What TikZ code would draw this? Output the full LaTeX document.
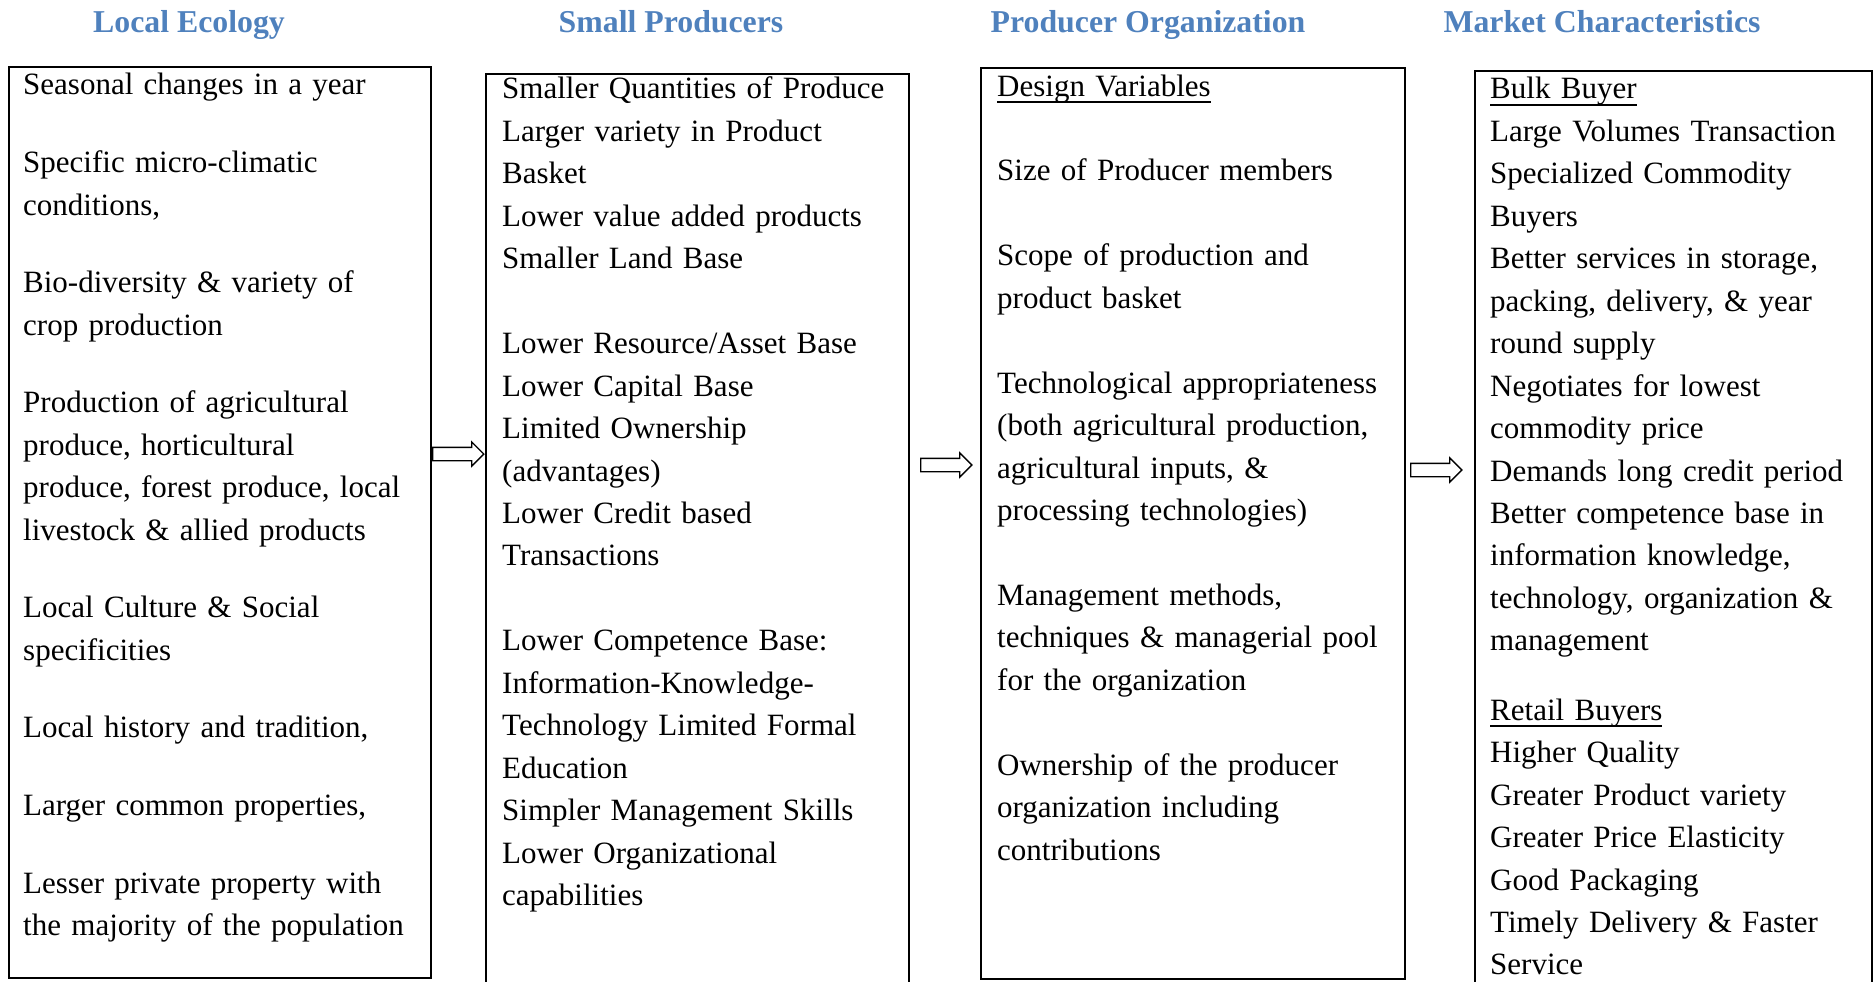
\documentclass[tikz,border=0pt]{standalone}
\usepackage{fontspec}
\setmainfont{Liberation Serif}
\usetikzlibrary{shapes.arrows}
\definecolor{headblue}{RGB}{79,129,189}
% underlined sub-heading inside a column
\newcommand{\ulined}[1]{\leavevmode\setbox0\hbox{#1}\rlap{\rule[-6.9pt]{\wd0}{1.8pt}}\box0}

\begin{document}
\begin{tikzpicture}[x=1pt,y=-1pt,
  panel/.style={draw,line width=1.8pt,anchor=north west,inner sep=0pt},
  colhead/.style={anchor=base,text=headblue,font=\fontsize{31.8}{38}\selectfont\bfseries},
  body/.style={anchor=base west,inner sep=0pt,text width=470pt,align=left,
    font=\fontsize{31}{42.45}\selectfont},
  blockarr/.style={single arrow,draw,fill=white,line width=1.3pt,inner sep=6pt,
    minimum width=0pt,minimum height=51pt,single arrow head extend=5.5pt}]
\path[use as bounding box,clip] (0,0) rectangle (1874,982);

% column titles
\node[colhead] (hEco) at (189,33) {Local Ecology};
\node[colhead] (hProd) at (671,33) {Small Producers};
\node[colhead] (hOrg) at (1148,33) {Producer Organization};
\node[colhead] (hMkt) at (1602,33) {Market Characteristics};

% frames
\node[panel,minimum width=422pt,minimum height=911pt] (eco) at (8,66) {};
\node[panel,minimum width=423pt,minimum height=930pt] (prod) at (485,73) {};
\node[panel,minimum width=424pt,minimum height=911pt] (org) at (980,67) {};
\node[panel,minimum width=397pt,minimum height=930pt] (mkt) at (1474,70) {};

\node[body] (ecoTxt) at (23,95) {Seasonal changes in a year\\[35.2pt]
Specific micro-climatic\\
conditions,\\[35.2pt]
Bio-diversity \& variety of\\
crop production\\[35.2pt]
Production of agricultural\\
produce, horticultural\\
produce, forest produce, local\\
livestock \& allied products\\[35.2pt]
Local Culture \& Social\\
specificities\\[35.2pt]
Local history and tradition,\\[35.2pt]
Larger common properties,\\[35.2pt]
Lesser private property with\\
the majority of the population};

\node[body] (prodTxt) at (502,99) {Smaller Quantities of Produce\\
Larger variety in Product\\
Basket\\
Lower value added products\\
Smaller Land Base\\[42.45pt]
Lower Resource/Asset Base\\
Lower Capital Base\\
Limited Ownership\\
(advantages)\\
Lower Credit based\\
Transactions\\[42.45pt]
Lower Competence Base:\\
Information-Knowledge-\\
Technology Limited Formal\\
Education\\
Simpler Management Skills\\
Lower Organizational\\
capabilities};

\node[body] (orgTxt) at (997,96) {\ulined{Design Variables}\\[42.45pt]
Size of Producer members\\[42.45pt]
Scope of production and\\
product basket\\[42.45pt]
Technological appropriateness\\
(both agricultural production,\\
agricultural inputs, \&\\
processing technologies)\\[42.45pt]
Management methods,\\
techniques \& managerial pool\\
for the organization\\[42.45pt]
Ownership of the producer\\
organization including\\
contributions};

\node[body] (mktTxt) at (1490,99) {\ulined{Bulk Buyer}\\
Large Volumes Transaction\\
Specialized Commodity\\
Buyers\\
Better services in storage,\\
packing, delivery, \& year\\
round supply\\
Negotiates for lowest\\
commodity price\\
Demands long credit period\\
Better competence base in\\
information knowledge,\\
technology, organization \&\\
management\\[27pt]
\ulined{Retail Buyers}\\
Higher Quality\\
Greater Product variety\\
Greater Price Elasticity\\
Good Packaging\\
Timely Delivery \& Faster\\
Service};

% links between the columns
\node[blockarr] (a1) at (455,454) {};
\node[blockarr] (a2) at (943,465) {};
\node[blockarr] (a3) at (1433,470) {};
\end{tikzpicture}
\end{document}
